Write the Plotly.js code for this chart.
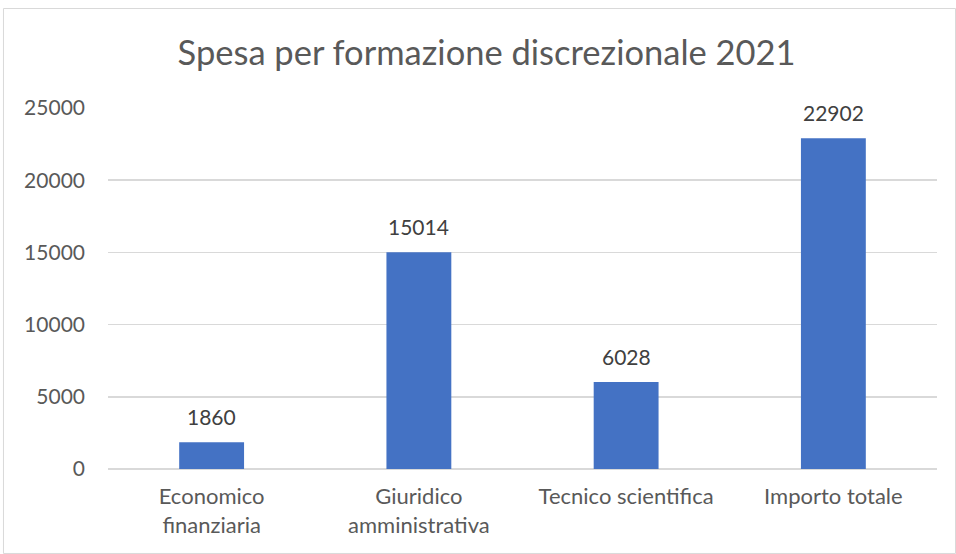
<!DOCTYPE html>
<html><head><meta charset="utf-8">
<script src="https://cdn.plot.ly/plotly-3.0.1.min.js"></script>
<style>html,body{margin:0;padding:0;background:#fff}#chart{width:956px;height:554px}</style>
</head><body><div id="chart"></div>
<script>
const categories = ["Economico<br>finanziaria", "Giuridico<br>amministrativa", "Tecnico scientifica", "Importo totale"];
const values = [1860, 15014, 6028, 22902];
const yTicks = [0, 5000, 10000, 15000, 20000, 25000];
const titleText = "Spesa per formazione discrezionale 2021";

const FONT = "Lato, 'Open Sans', sans-serif";
const trace = {
  type: "bar", x: categories, y: values,
  marker: {color: "#4472C4"},
  hoverinfo: "skip"
};
const annotations = categories.map((c, i) => ({
  x: c, y: values[i], xref: "x", yref: "y", text: String(values[i]),
  showarrow: false, yanchor: "bottom", yshift: 11,
  font: {family: FONT, size: 21, color: "#404040"}
}));
const layout = {
  width: 956, height: 554,
  margin: {l: 108, r: 19, t: 108, b: 85},
  paper_bgcolor: "#fff", plot_bgcolor: "#fff",
  showlegend: false,
  bargap: 0.687,
  title: {text: titleText, x: 0.509, xref: "container", y: 0.904, yref: "container", yanchor: "middle",
          font: {family: FONT, size: 34.5, color: "#595959"}},
  xaxis: {showgrid: false, showline: false, zeroline: false, ticks: "",
          tickfont: {family: FONT, size: 22, color: "#595959"}, ticklabelstandoff: 12},
  yaxis: {range: [0, 25000], tickvals: yTicks, ticktext: yTicks.map(String),
          showgrid: true, gridcolor: "#d9d9d9", gridwidth: 1.5, zeroline: true, zerolinecolor: "#d9d9d9", zerolinewidth: 1.5,
          showline: false, ticks: "", tickfont: {family: FONT, size: 21, color: "#595959"}, ticklabelstandoff: 22},
  annotations: annotations,
  shapes: [{type: "rect", xref: "paper", yref: "paper", x0: -0.1261, x1: 1.0223, y0: -0.234, y1: 1.2756,
            line: {color: "#d9d9d9", width: 1}, fillcolor: "rgba(0,0,0,0)", layer: "below"}]
};
Plotly.newPlot("chart", [trace], layout, {displayModeBar: false, staticPlot: true});
</script></body></html>
